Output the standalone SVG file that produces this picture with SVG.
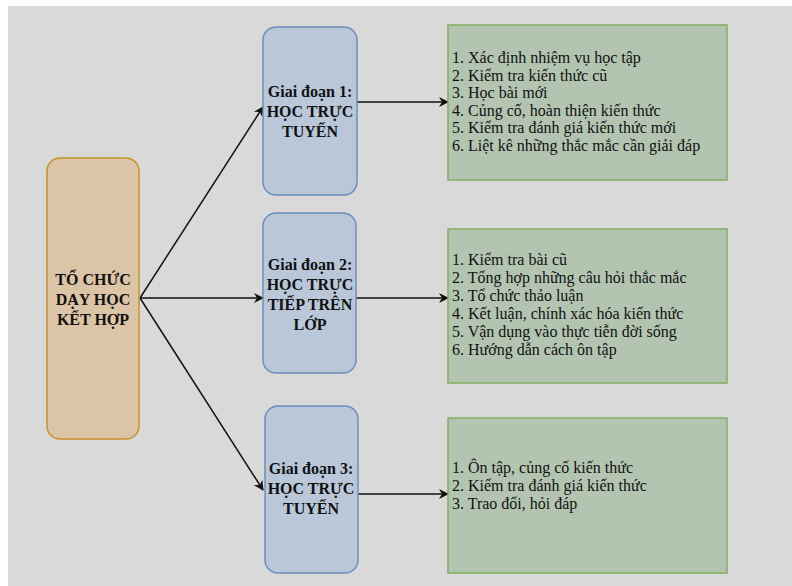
<svg xmlns="http://www.w3.org/2000/svg" width="792" height="586" viewBox="0 0 792 586">
<style>
.root{fill:#dcc4a6;stroke:#c9922b;stroke-width:1.5}
.phase{fill:#b9c7d9;stroke:#6c8ebf;stroke-width:1.5}
.list{fill:#b3c5b1;stroke:#7fae62;stroke-width:1.5}
.bt{font-family:"Liberation Serif",serif;font-weight:bold;font-size:16px;fill:#111;text-anchor:middle}
.lt{font-family:"Liberation Serif",serif;font-size:16px;fill:#111}
.con{stroke:#111;stroke-width:1.5;fill:none;marker-end:url(#ah)}
</style>
<defs>
<marker id="ah" viewBox="0 0 10 10" refX="9" refY="5" markerWidth="10" markerHeight="10" markerUnits="userSpaceOnUse" orient="auto">
<path d="M0,0 L10,5 L0,10 L3,5 Z" fill="#111"/>
</marker>
</defs>
<rect x="0" y="0" width="792" height="586" fill="#ffffff"/>
<rect x="8" y="6" width="784" height="580" fill="#d9d9d9"/>
<g id="connectors">
<line class="con" x1="140" y1="298" x2="263" y2="107"/>
<line class="con" x1="140" y1="298" x2="263" y2="298"/>
<line class="con" x1="140" y1="298" x2="263" y2="490"/>
<line class="con" x1="357" y1="102" x2="448" y2="102"/>
<line class="con" x1="356" y1="298" x2="448" y2="298"/>
<line class="con" x1="358" y1="494" x2="448" y2="494"/>
</g>
<g id="root">
<rect class="root" x="47" y="158" width="92" height="281" rx="13"/>
<text class="bt" x="93" y="285">TỔ CHỨC</text>
<text class="bt" x="93" y="305">DẠY HỌC</text>
<text class="bt" x="93" y="325">KẾT HỢP</text>
</g>
<g id="phase1">
<rect class="phase" x="263" y="27" width="94" height="168" rx="13"/>
<text class="bt" x="310" y="97">Giai đoạn 1:</text>
<text class="bt" x="310" y="117">HỌC TRỰC</text>
<text class="bt" x="310" y="137">TUYẾN</text>
</g>
<g id="phase2">
<rect class="phase" x="263" y="213" width="93" height="160" rx="13"/>
<text class="bt" x="310" y="270">Giai đoạn 2:</text>
<text class="bt" x="310" y="290">HỌC TRỰC</text>
<text class="bt" x="310" y="310">TIẾP TRÊN</text>
<text class="bt" x="310" y="330">LỚP</text>
</g>
<g id="phase3">
<rect class="phase" x="265" y="406" width="93" height="167" rx="13"/>
<text class="bt" x="311" y="474">Giai đoạn 3:</text>
<text class="bt" x="311" y="494">HỌC TRỰC</text>
<text class="bt" x="311" y="514">TUYẾN</text>
</g>
<g id="list1">
<rect class="list" x="448" y="25" width="279" height="155"/>
<text class="lt" x="452" y="63">1. Xác định nhiệm vụ học tập</text>
<text class="lt" x="452" y="80.5">2. Kiểm tra kiến thức cũ</text>
<text class="lt" x="452" y="98">3. Học bài mới</text>
<text class="lt" x="452" y="115.5">4. Củng cố, hoàn thiện kiến thức</text>
<text class="lt" x="452" y="133">5. Kiểm tra đánh giá kiến thức mới</text>
<text class="lt" x="452" y="150.5">6. Liệt kê những thắc mắc cần giải đáp</text>
</g>
<g id="list2">
<rect class="list" x="448" y="229" width="279" height="154"/>
<text class="lt" x="452" y="265">1. Kiểm tra bài cũ</text>
<text class="lt" x="452" y="283">2. Tổng hợp những câu hỏi thắc mắc</text>
<text class="lt" x="452" y="301">3. Tổ chức thảo luận</text>
<text class="lt" x="452" y="319">4. Kết luận, chính xác hóa kiến thức</text>
<text class="lt" x="452" y="337">5. Vận dụng vào thực tiễn đời sống</text>
<text class="lt" x="452" y="355">6. Hướng dẫn cách ôn tập</text>
</g>
<g id="list3">
<rect class="list" x="448" y="418" width="279" height="155"/>
<text class="lt" x="452" y="473">1. Ôn tập, củng cố kiến thức</text>
<text class="lt" x="452" y="491">2. Kiểm tra đánh giá kiến thức</text>
<text class="lt" x="452" y="509">3. Trao đổi, hỏi đáp</text>
</g>
</svg>
